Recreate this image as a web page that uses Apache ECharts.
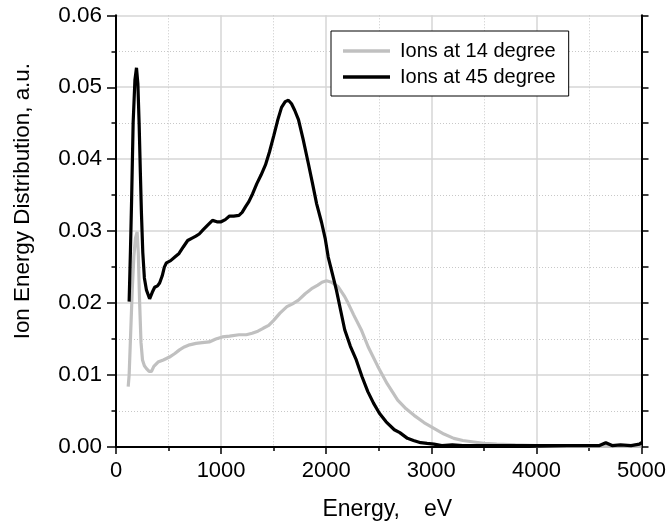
<!DOCTYPE html>
<html>
<head>
<meta charset="utf-8">
<script src="https://cdn.jsdelivr.net/npm/echarts@6/dist/echarts.min.js"></script>
<style>html,body{margin:0;padding:0;background:#fff}#c{width:669px;height:527px}</style>
</head>
<body>
<div id="c"></div>
<script>
const seriesNames = ['Ions at 14 degree', 'Ions at 45 degree'];
const xTicks = [0, 1000, 2000, 3000, 4000, 5000];
const yTicks = [0.00, 0.01, 0.02, 0.03, 0.04, 0.05, 0.06];

const ions14 = [
[116,0.0084],[125,0.0100],[140,0.0160],[155,0.0220],[170,0.0265],[185,0.0290],[201,0.0299],[212,0.0270],[225,0.0200],[238,0.0145],[252,0.0121],[270,0.0113],[290,0.0109],[315,0.0105],[337,0.0105],[360,0.0112],[400,0.0118],[450,0.0121],[509,0.0125],[560,0.0130],[604,0.0135],[650,0.0139],[700,0.0142],[761,0.0144],[820,0.0145],[887,0.0146],[950,0.0150],[1012,0.0153],[1080,0.0154],[1170,0.0156],[1240,0.0156],[1295,0.0158],[1350,0.0161],[1400,0.0165],[1453,0.0169],[1500,0.0176],[1560,0.0186],[1626,0.0195],[1680,0.0199],[1736,0.0204],[1800,0.0213],[1861,0.0220],[1920,0.0225],[1960,0.0229],[2003,0.0231],[2050,0.0229],[2113,0.0223],[2176,0.0209],[2208,0.0200],[2260,0.0184],[2333,0.0163],[2400,0.0139],[2491,0.0112],[2580,0.0088],[2680,0.0065],[2760,0.0053],[2836,0.0044],[2930,0.0034],[3025,0.0026],[3120,0.0018],[3214,0.0012],[3300,0.0009],[3403,0.0007],[3500,0.0005],[3623,0.0004],[3800,0.0003],[4000,0.0002],[4300,0.0001],[4700,0.0001],[5000,0.0001]
];

const ions45 = [
[125,0.0202],[137,0.0270],[148,0.0340],[163,0.0450],[180,0.0510],[195,0.0527],[208,0.0505],[220,0.0450],[232,0.0380],[242,0.0325],[255,0.0270],[270,0.0235],[290,0.0218],[320,0.0206],[345,0.0215],[368,0.0222],[395,0.0224],[415,0.0228],[440,0.0238],[460,0.0250],[480,0.0256],[520,0.0259],[560,0.0264],[600,0.0269],[640,0.0278],[682,0.0287],[720,0.0290],[760,0.0293],[792,0.0296],[830,0.0302],[870,0.0308],[918,0.0315],[960,0.0313],[1000,0.0313],[1040,0.0316],[1080,0.0321],[1120,0.0321],[1170,0.0322],[1200,0.0326],[1233,0.0334],[1264,0.0341],[1300,0.0352],[1340,0.0366],[1380,0.0378],[1422,0.0392],[1460,0.0410],[1500,0.0432],[1540,0.0455],[1575,0.0472],[1610,0.0480],[1640,0.0482],[1670,0.0477],[1700,0.0468],[1736,0.0455],[1780,0.0428],[1830,0.0394],[1870,0.0366],[1909,0.0338],[1956,0.0312],[1990,0.0290],[2019,0.0264],[2060,0.0240],[2097,0.0218],[2140,0.0188],[2176,0.0163],[2230,0.0140],[2286,0.0121],[2340,0.0098],[2396,0.0077],[2450,0.0061],[2506,0.0047],[2570,0.0035],[2648,0.0024],[2700,0.0020],[2773,0.0012],[2830,0.0009],[2899,0.0006],[2960,0.0005],[3025,0.0004],[3100,0.0002],[3200,0.0003],[3300,0.0002],[3450,0.0002],[3600,0.0002],[3800,0.0002],[4000,0.0002],[4200,0.0002],[4400,0.0002],[4600,0.0002],[4660,0.0006],[4720,0.0002],[4800,0.0003],[4900,0.0002],[4980,0.0004],[5000,0.0006]
];

const FONT = '"Liberation Sans", Arial, sans-serif';
const chart = echarts.init(document.getElementById('c'), null, {renderer: 'canvas'});

const yCommon = {
  type: 'value', min: yTicks[0], max: yTicks[yTicks.length - 1], interval: 0.01
};

chart.setOption({
  animation: false,
  backgroundColor: '#fff',
  textStyle: {fontFamily: FONT},
  grid: {left: 116, right: 23.3, top: 15.3, bottom: 80},
  legend: {
    left: 331, top: 31,
    orient: 'vertical',
    backgroundColor: '#fff',
    borderColor: '#000', borderWidth: 1,
    padding: [10, 13, 9, 12],
    itemGap: 6,
    icon: 'rect',
    itemWidth: 47, itemHeight: 3.5,
    textStyle: {fontSize: 20, fontFamily: FONT, color: '#000', padding: [0, 0, 0, 5]},
    data: seriesNames
  },
  xAxis: {
    type: 'value', min: xTicks[0], max: xTicks[xTicks.length - 1], interval: 1000,
    name: 'Energy,{g| }eV', nameLocation: 'middle', nameGap: 51,
    nameTextStyle: {fontSize: 23, fontFamily: FONT, color: '#000', padding: [0, 0, 0, 17],
      rich: {g: {width: 24, fontSize: 23, fontFamily: FONT}}},
    axisLine: {show: true, onZero: false, lineStyle: {color: '#000', width: 2}},
    axisTick: {show: true, length: 7, lineStyle: {color: '#000', width: 1.5}},
    minorTick: {show: true, splitNumber: 2, length: 4, lineStyle: {color: '#000', width: 1.5}},
    axisLabel: {fontSize: 22, color: '#000', margin: 13, fontFamily: FONT, formatter: v => String(v)},
    splitLine: {show: true, lineStyle: {color: '#d6d6d6', width: 1.5}},
    minorSplitLine: {show: true, lineStyle: {color: '#c8c8c8', width: 1, type: [1, 2]}}
  },
  yAxis: [
    Object.assign({}, yCommon, {
      position: 'left',
      name: 'Ion Energy Distribution, a.u.', nameLocation: 'middle', nameGap: 82,
      nameTextStyle: {fontSize: 22.4, fontFamily: FONT, color: '#000', padding: [0, 0, 0, 60]},
      axisLine: {show: true, onZero: false, lineStyle: {color: '#000', width: 2}},
      axisTick: {show: true, length: 9, lineStyle: {color: '#000', width: 1.5}},
      minorTick: {show: true, splitNumber: 2, length: 4.5, lineStyle: {color: '#000', width: 1.5}},
      axisLabel: {fontSize: 22.5, color: '#000', margin: 14, fontFamily: FONT, formatter: v => v.toFixed(2)},
      splitLine: {show: true, lineStyle: {color: '#d6d6d6', width: 1.5}},
      minorSplitLine: {show: true, lineStyle: {color: '#c8c8c8', width: 1, type: [1, 2]}}
    }),
    Object.assign({}, yCommon, {
      position: 'right',
      axisLine: {show: true, onZero: false, lineStyle: {color: '#000', width: 2}},
      axisTick: {show: true, length: 7, lineStyle: {color: '#000', width: 1.5}},
      minorTick: {show: true, splitNumber: 2, length: 7, lineStyle: {color: '#000', width: 1.5}},
      axisLabel: {show: false},
      splitLine: {show: false}
    })
  ],
  series: [
    {
      name: seriesNames[0], type: 'line', data: ions14, symbol: 'none',
      lineStyle: {color: '#c0c0c0', width: 3.2}, itemStyle: {color: '#c0c0c0'}, z: 2
    },
    {
      name: seriesNames[1], type: 'line', data: ions45, symbol: 'none',
      lineStyle: {color: '#000', width: 3.2}, itemStyle: {color: '#000'}, z: 3
    }
  ]
});
</script>
</body>
</html>
